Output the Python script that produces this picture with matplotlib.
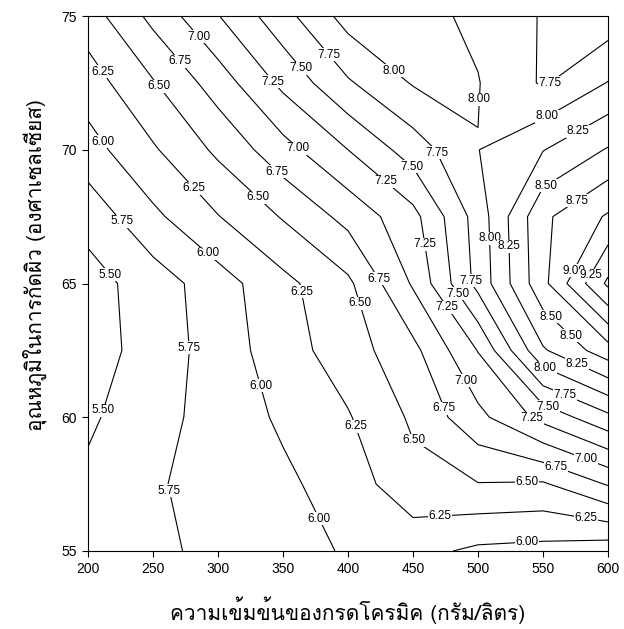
import numpy as np
import matplotlib
matplotlib.use("Agg")
import matplotlib.pyplot as plt
from matplotlib import font_manager

# grid: acid concentration (g/L) x temperature (C)
conc = [200, 250, 300, 350, 400, 450, 500, 550, 600]
temp = [55, 57.5, 60, 62.5, 65, 67.5, 70, 72.5, 75]

z_55 = [5.60, 5.70, 5.81, 5.92, 6.02, 6.08, 5.95, 5.92, 5.85]
z_575 = [5.55, 5.72, 5.85, 5.95, 6.12, 6.42, 6.49, 6.47, 6.77]
z_60 = [5.46, 5.66, 5.85, 6.04, 6.23, 6.54, 6.93, 7.33, 7.69]
z_625 = [5.38, 5.61, 5.86, 6.14, 6.38, 6.68, 7.26, 8.22, 8.64]
z_65 = [5.40, 5.62, 5.89, 6.18, 6.45, 7.03, 7.83, 8.68, 9.55]
z_675 = [5.59, 5.945, 6.24, 6.52, 6.83, 7.17, 7.86, 8.70, 9.03]
z_70 = [5.90, 6.22, 6.55, 6.91, 7.25, 7.62, 7.995, 8.24, 8.52]
z_725 = [6.13, 6.48, 6.87, 7.31, 7.72, 8.02, 8.01, 7.72, 8.01]
z_75 = [6.38, 6.82, 7.24, 7.66, 8.10, 8.08, 7.95, 7.73, 7.60]

levels = np.arange(5.5, 9.51, 0.25)

# where the contour labels sit (data coords)
label_spots = [
    (284.6, 74.2), (210.8, 72.9), (270, 73.3), (255.4, 72.4), (341.5, 72.5),
    (363, 73.0), (383.8, 73.5), (211.5, 70.3), (360.8, 70.0), (346, 69.2),
    (280, 68.5), (330, 68.2), (223, 67.2), (291.5, 66.1), (219, 65.4),
    (434.6, 72.9), (495, 71.9), (555.4, 72.5), (554, 71.2), (577, 70.7),
    (473, 70.0), (450, 69.4), (428.5, 68.8), (551.5, 68.7), (574.6, 68.2),
    (450, 66.4), (509, 66.7), (524.6, 66.4), (430.8, 65.4), (568.5, 65.6),
    (587, 65.3), (493, 65.1), (481, 64.5), (470, 63.9), (411.5, 64.3),
    (553, 63.6), (576, 63.3), (551.5, 61.8), (576, 62.0), (491.5, 61.4),
    (567, 60.8), (554, 60.4), (474.6, 60.35), (542, 60.0), (407.7, 59.7),
    (450, 59.1), (583.8, 58.5), (560.8, 58.3), (537.7, 57.8), (470.8, 56.2),
    (583.8, 56.5), (537.7, 55.4), (364.6, 64.7), (280, 62.6), (327, 61.1),
    (209, 60.3), (257.7, 57.2), (383.8, 56.35),
]

names = {f.name for f in font_manager.fontManager.ttflist}
thai = [n for n in ["Loma", "Noto Sans Thai Looped", "IBM Plex Sans Thai Looped"] if n in names]
thai_fam = thai[:1] + ["DejaVu Sans"]
num_font = "Liberation Sans"

Z = np.array([z_55, z_575, z_60, z_625, z_65, z_675, z_70, z_725, z_75])
X, Y = np.meshgrid(conc, temp)

fig = plt.figure(figsize=(6.24, 6.29), dpi=100)
ax = fig.add_axes([88 / 624, 1 - 551 / 629, 520 / 624, 535 / 629])

cs = ax.contour(X, Y, Z, levels=levels, colors="k", linewidths=0.8)
texts = ax.clabel(cs, manual=label_spots, inline=False, fmt="%.2f", fontsize=8.5)
for t in texts:
    t.set_rotation(0)
    t.set_family(num_font)
    t.set_bbox(dict(facecolor="white", edgecolor="none", pad=0.3))

ax.set_xlim(200, 600)
ax.set_ylim(55, 75)
ax.set_xticks(range(200, 601, 50))
ax.set_yticks(range(55, 76, 5))
ax.tick_params(direction="out", length=4, width=0.8, labelsize=10, pad=4)
for lab in ax.get_xticklabels() + ax.get_yticklabels():
    lab.set_family(num_font)
for sp in ax.spines.values():
    sp.set_linewidth(0.8)

ax.set_xlabel("ความเข้มข้นของกรดโครมิค (กรัม/ลิตร)", family=thai_fam, fontsize=15, labelpad=15)
ax.set_ylabel("อุณหภูมิในการกัดผิว (องศาเซลเซียส)", family=thai_fam, fontsize=15)
ax.yaxis.set_label_coords(-0.078, 0.535)

fig.savefig("out.png", dpi=100)
